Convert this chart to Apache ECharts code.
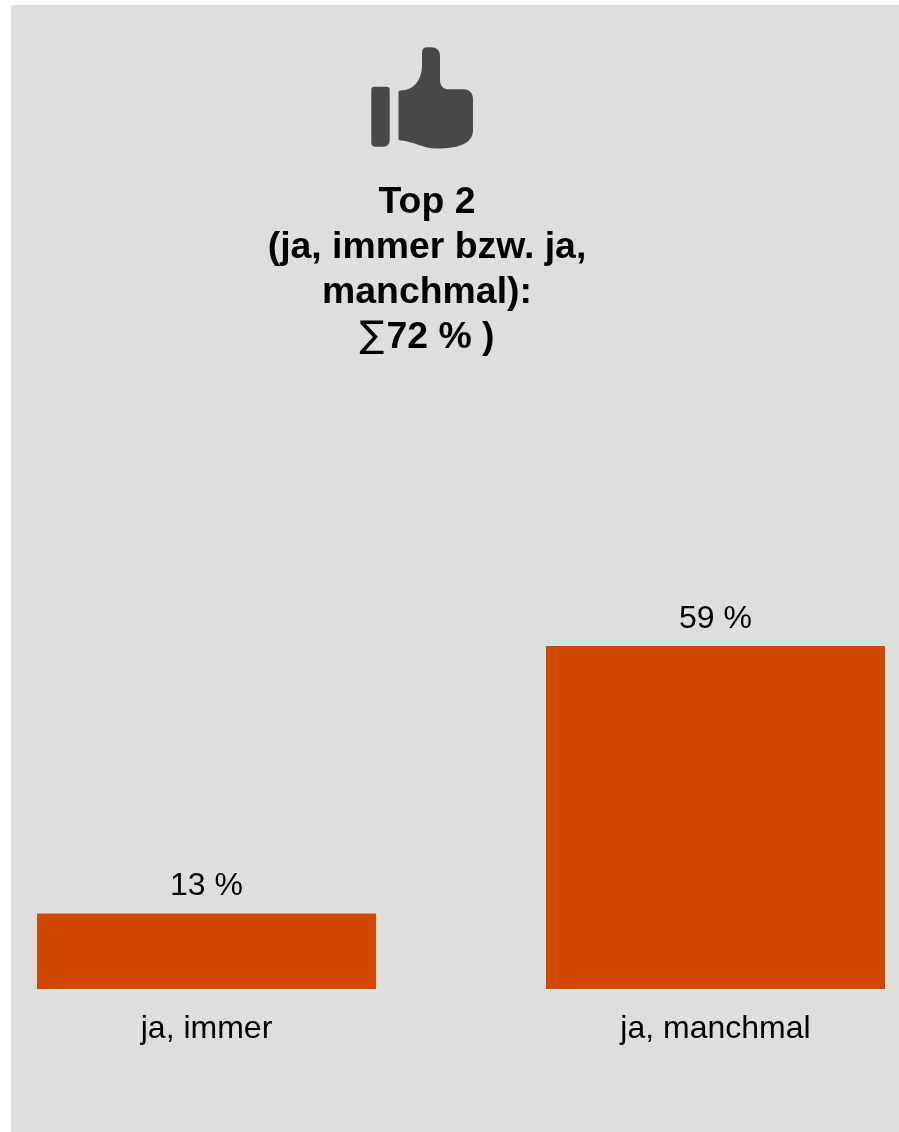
<!DOCTYPE html>
<html>
<head>
<meta charset="utf-8">
<style>html,body{margin:0;padding:0;background:#fff}#chart{width:899px;height:1132px}</style>
<script src="https://cdn.jsdelivr.net/npm/echarts@6/dist/echarts.min.js"></script>
</head>
<body>
<div id="chart"></div>
<script>
const categories = ['ja, immer', 'ja, manchmal'];
const values = [13, 59];
const valueSuffix = ' %';
const headingLines = ['Top 2', '(ja, immer bzw. ja,', 'manchmal):'];
const headingSum = '72 % )';

const FONT = '"Liberation Sans", Arial, Helvetica, sans-serif';
const thumbHand = 'M401 90.5 C 414 90 422 80 422 65 L 422 52 C 422 49 424 47.3 427 47.3 L 431 47.3 C 436 47.3 440 50 440 56 L 440 80 C 440 85 443 89.3 448 89.3 L 464 89.3 C 469 89.3 473 93 473 99 L 473 130 C 473 142 462 148.5 437 148.5 C 422 148.5 416 142 399.5 140.3 C 398.6 140 398.5 139.5 398.5 138 L 398.5 93 C 398.5 91 399 90.5 401 90.5 Z';
echarts.graphic.registerShape('thumbHand', echarts.graphic.extendPath(thumbHand, {}));

const chart = echarts.init(document.getElementById('chart'), null, {renderer: 'canvas'});
chart.setOption({
  animation: false,
  backgroundColor: '#ffffff',
  graphic: [
    {type: 'rect', z: -10, shape: {x: 11, y: 5, width: 888, height: 1127}, style: {fill: '#dedede'}},
    {type: 'rect', z: 5, shape: {x: 371.3, y: 86.7, width: 18.4, height: 60, r: [3, 3, 6, 4]}, style: {fill: '#484848'}},
    {type: 'thumbHand', z: 5, style: {fill: '#484848'}}
  ],
  title: {
    left: 422,
    top: 175,
    textAlign: 'center',
    text: headingLines.map(l => '{h|' + l + '}').join('\n') + '\n{s|∑}{h|' + headingSum + '}',
    textStyle: {
      rich: {
        h: {fontFamily: FONT, fontWeight: 'bold', fontSize: 37.4, lineHeight: 45, color: '#000'},
        s: {fontFamily: '"DejaVu Sans", sans-serif', fontWeight: 'normal', fontSize: 37, lineHeight: 45, color: '#000', padding: [0, 2, 0, 0]}
      }
    }
  },
  grid: {left: -48, right: -71, top: 47, bottom: 143, outerBoundsMode: 'none'},
  xAxis: {
    type: 'category',
    data: categories,
    axisLine: {show: false},
    axisTick: {show: false},
    axisLabel: {fontFamily: FONT, fontSize: 32, color: '#000', margin: 24, interval: 0}
  },
  yAxis: {type: 'value', min: 0, max: 162, show: false},
  series: [{
    type: 'bar',
    data: values,
    barWidth: 339,
    itemStyle: {color: '#d14900'},
    label: {
      show: true,
      position: 'top',
      distance: 11,
      fontFamily: FONT,
      fontSize: 32,
      color: '#000',
      formatter: p => p.value + valueSuffix
    }
  }]
});
</script>
</body>
</html>
